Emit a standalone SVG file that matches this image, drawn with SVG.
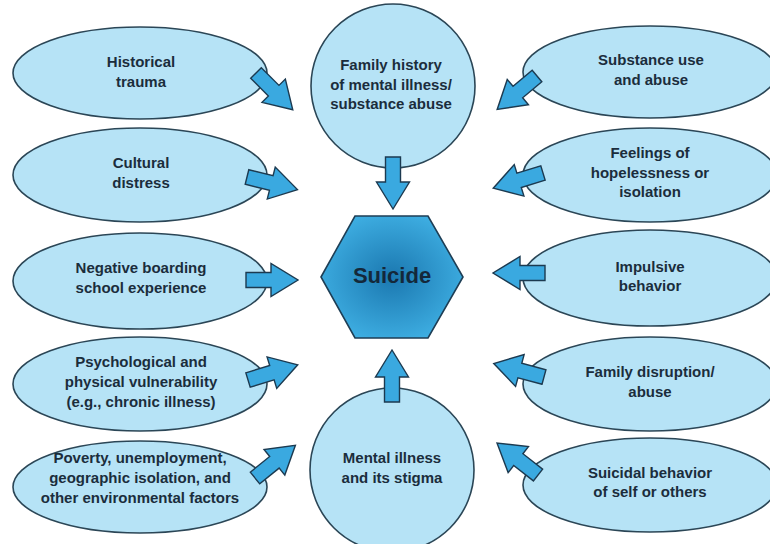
<svg xmlns="http://www.w3.org/2000/svg" xmlns:xlink="http://www.w3.org/1999/xlink" width="770" height="544" viewBox="0 0 770 544">
<style>
.n{fill:#b6e3f6;stroke:#2b4656;stroke-width:1.6}
.t{font-family:"Liberation Sans",Arial,sans-serif;font-weight:bold;font-size:15px;fill:#1b2d3c;text-anchor:middle}
.a{fill:#3aa9e0;stroke:#1c3a50;stroke-width:1.4;stroke-linejoin:miter}
</style>
<defs>
<radialGradient id="hg" cx="50%" cy="50%" r="55%">
<stop offset="0" stop-color="#1b78b0"/>
<stop offset="1" stop-color="#3eaee2"/>
</radialGradient>
<polygon id="arr" points="0,-7.5 25,-7.5 25,-16.5 52,0 25,16.5 25,7.5 0,7.5"/>
</defs>
<rect width="770" height="544" fill="#ffffff"/>

<g id="historical-trauma"><ellipse class="n" cx="140" cy="73" rx="127" ry="46"/><text class="t" x="141" y="67">Historical</text><text class="t" x="141" y="87">trauma</text></g>
<g id="cultural-distress"><ellipse class="n" cx="140" cy="175" rx="127" ry="47"/><text class="t" x="141" y="168">Cultural</text><text class="t" x="141" y="188">distress</text></g>
<g id="negative-boarding"><ellipse class="n" cx="140" cy="281" rx="127" ry="48"/><text class="t" x="141" y="273">Negative boarding</text><text class="t" x="141" y="293">school experience</text></g>
<g id="psychological"><ellipse class="n" cx="140" cy="384" rx="127" ry="47"/><text class="t" x="141" y="367">Psychological and</text><text class="t" x="141" y="387">physical vulnerability</text><text class="t" x="141" y="407">(e.g., chronic illness)</text></g>
<g id="poverty"><ellipse class="n" cx="140" cy="487" rx="127" ry="46"/><text class="t" x="140" y="463">Poverty, unemployment,</text><text class="t" x="140" y="483">geographic isolation, and</text><text class="t" x="140" y="503">other environmental factors</text></g>

<g id="substance-use"><ellipse class="n" cx="650" cy="72" rx="127" ry="46"/><text class="t" x="651" y="65">Substance use</text><text class="t" x="651" y="85">and abuse</text></g>
<g id="feelings"><ellipse class="n" cx="650" cy="175" rx="127" ry="47"/><text class="t" x="650" y="158">Feelings of</text><text class="t" x="650" y="178">hopelessness or</text><text class="t" x="650" y="197">isolation</text></g>
<g id="impulsive"><ellipse class="n" cx="650" cy="278" rx="127" ry="48"/><text class="t" x="650" y="272">Impulsive</text><text class="t" x="650" y="291">behavior</text></g>
<g id="family-disruption"><ellipse class="n" cx="650" cy="384" rx="127" ry="47"/><text class="t" x="650" y="377">Family disruption/</text><text class="t" x="650" y="397">abuse</text></g>
<g id="suicidal-behavior"><ellipse class="n" cx="650" cy="485" rx="127" ry="47"/><text class="t" x="650" y="478">Suicidal behavior</text><text class="t" x="650" y="497">of self or others</text></g>

<g id="family-history"><circle class="n" cx="393" cy="86" r="82"/><text class="t" x="391" y="70">Family history</text><text class="t" x="391" y="90">of mental illness/</text><text class="t" x="391" y="109">substance abuse</text></g>
<g id="mental-illness"><circle class="n" cx="392" cy="470" r="82"/><text class="t" x="392" y="463">Mental illness</text><text class="t" x="392" y="483">and its stigma</text></g>

<g id="suicide"><polygon points="321,277 355,216 428,216 463,277 428,338 355,338" fill="url(#hg)" stroke="#1e3e55" stroke-width="1.6"/><text x="392" y="283" font-family="Liberation Sans,Arial,sans-serif" font-weight="bold" font-size="22" fill="#14283a" text-anchor="middle">Suicide</text></g>

<g id="connectors">
<use class="a" xlink:href="#arr" transform="translate(256,73) rotate(45)"/>
<use class="a" xlink:href="#arr" transform="translate(247,177) rotate(14)"/>
<use class="a" xlink:href="#arr" transform="translate(246,280) rotate(0)"/>
<use class="a" xlink:href="#arr" transform="translate(248,380) rotate(-17)"/>
<use class="a" xlink:href="#arr" transform="translate(255,478) rotate(-39)"/>
<use class="a" xlink:href="#arr" transform="translate(537,76) rotate(140)"/>
<use class="a" xlink:href="#arr" transform="translate(543,173) rotate(163)"/>
<use class="a" xlink:href="#arr" transform="translate(545,273) rotate(180)"/>
<use class="a" xlink:href="#arr" transform="translate(544,377) rotate(195)"/>
<use class="a" xlink:href="#arr" transform="translate(538,475) rotate(218)"/>
<use class="a" xlink:href="#arr" transform="translate(393,157) rotate(90)"/>
<use class="a" xlink:href="#arr" transform="translate(392,402) rotate(-90)"/>
</g>
</svg>
